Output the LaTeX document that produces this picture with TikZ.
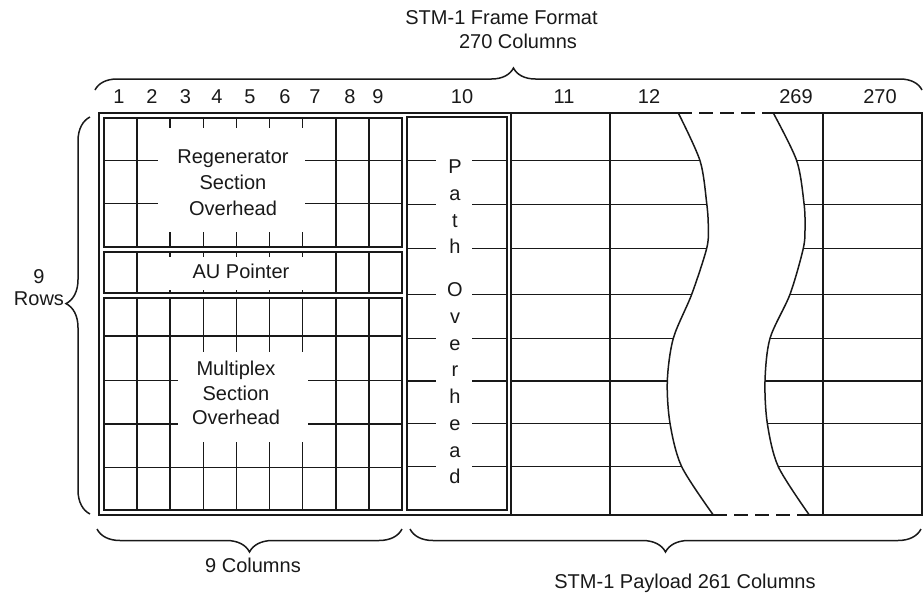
\documentclass[tikz,border=0pt]{standalone}
\usepackage{fontspec}
\setmainfont{Liberation Sans}
\usetikzlibrary{decorations.pathreplacing}
\tikzset{
  lbl/.style={font=\fontsize{20}{24}\selectfont, inner sep=0pt, anchor=base, text=black!90},
  gridln/.style={line width=1.5pt, draw=black!90},
  boxln/.style={line width=1.7pt, draw=black!90},
  blank/.style={fill=white, draw=none},
  bracedeco/.style={decorate, decoration={brace, amplitude=#1}, line width=1.5pt, draw=black!90},
  dashln/.style={line width=1.7pt, draw=black!90, dash pattern=on 14pt off 7pt}
}
\begin{document}
\begin{tikzpicture}[x=1pt,y=-1pt]
\useasboundingbox (0,0) rectangle (923,592);

% ---------- overhead grid (columns 1-9) ----------
\foreach \k in {1,...,8}{
  \draw[gridln] ({104+33.11*\k},118) -- ({104+33.11*\k},247);
  \draw[gridln] ({104+33.11*\k},251.7) -- ({104+33.11*\k},293.3);
  \draw[gridln] ({104+33.11*\k},298.3) -- ({104+33.11*\k},510);
}
\foreach \y in {160.7,203.3}{\draw[gridln] (104,\y) -- (402,\y);}
\foreach \y in {336,380.7,424,467.3}{\draw[gridln] (104,\y) -- (402,\y);}
\path[blank] (158,128) rectangle (305,232);
\path[blank] (158,256.5) rectangle (305,289.5);
\path[blank] (178,351.7) rectangle (308,441.7);
\draw[boxln] (104,118) rectangle (402,247);
\draw[boxln] (104,251.7) rectangle (402,293.3);
\draw[boxln] (104,298.3) rectangle (402,510);

% ---------- path overhead column ----------
\foreach \y in {160.7,204.3,248.3,294.3,338.3,381,423.3,466.7}{
  \draw[gridln] (407.3,\y) -- (436,\y);
  \draw[gridln] (472,\y) -- (506.7,\y);
}
\draw[boxln] (407.3,117.3) rectangle (506.7,510);

% ---------- payload ----------
\foreach \y in {160.7,204.3,248.3,294.3,338.3,381,423.3,466.7}{
  \draw[gridln] (510.7,\y) -- (922,\y);
}
\fill[white] plot[smooth,tension=0.5] coordinates {(678.3,113) (700,160.7) (706.7,203.3) (708.3,226.7) (706.7,248.3) (691.7,294.3) (673.3,338.3) (667.3,381) (670,423.3) (681.7,466.7) (713.3,515)}
  -- plot[smooth,tension=0.5] coordinates {(809.3,515) (778.3,466.7) (767.3,423.3) (765,381) (770,338.3) (790,294.3) (803.3,248.3) (805,226.7) (804,203.3) (796.7,160.7) (773.3,113)} -- cycle;
\draw[gridln] plot[smooth,tension=0.5] coordinates {(678.3,113) (700,160.7) (706.7,203.3) (708.3,226.7) (706.7,248.3) (691.7,294.3) (673.3,338.3) (667.3,381) (670,423.3) (681.7,466.7) (713.3,515)};
\draw[gridln] plot[smooth,tension=0.5] coordinates {(773.3,113) (796.7,160.7) (804,203.3) (805,226.7) (803.3,248.3) (790,294.3) (770,338.3) (765,381) (767.3,423.3) (778.3,466.7) (809.3,515)};
\foreach \x in {510.7,610,823.3}{\draw[boxln] (\x,113) -- (\x,515);}
\draw[boxln] (678.3,113) -- (99,113) -- (99,515) -- (713.3,515);
\draw[boxln] (773.3,113) -- (922,113) -- (922,515) -- (809.3,515);
\draw[dashln] (678.3,113) -- (773.3,113);
\draw[dashln] (713.3,515) -- (809.3,515);

% ---------- texts ----------
\node[lbl] (rs1) at (233,163.8) {Regenerator};
\node[lbl] (rs2) at (233,189.8) {Section};
\node[lbl] (rs3) at (233,215.8) {Overhead};
\node[lbl] (au) at (241,278.8) {AU Pointer};
\node[lbl] (ms1) at (236,375.8) {Multiplex};
\node[lbl] (ms2) at (236,400.3) {Section};
\node[lbl] (ms3) at (236,424.8) {Overhead};

\node[lbl] (p1) at (455,173.5) {P};
\node[lbl] (p2) at (455,200.3) {a};
\node[lbl] (p3) at (455,227.1) {t};
\node[lbl] (p4) at (455,253.9) {h};
\node[lbl] (o1) at (455,296.8) {O};
\node[lbl] (o2) at (455,323.5) {v};
\node[lbl] (o3) at (455,350.2) {e};
\node[lbl] (o4) at (455,376.9) {r};
\node[lbl] (o5) at (455,403.6) {h};
\node[lbl] (o6) at (455,430.3) {e};
\node[lbl] (o7) at (455,457) {a};
\node[lbl] (o8) at (455,483.7) {d};

\node[lbl] (title1) at (501.5,24.8) {STM-1 Frame Format};
\node[lbl] (title2) at (518,48.8) {270 Columns};

\node[lbl] (c1) at (119,103.3) {1};
\node[lbl] (c2) at (152,103.3) {2};
\node[lbl] (c3) at (185.5,103.3) {3};
\node[lbl] (c4) at (217,103.3) {4};
\node[lbl] (c5) at (250,103.3) {5};
\node[lbl] (c6) at (285,103.3) {6};
\node[lbl] (c7) at (315,103.3) {7};
\node[lbl] (c8) at (350,103.3) {8};
\node[lbl] (c9) at (378,103.3) {9};
\node[lbl] (c10) at (462,103.3) {10};
\node[lbl] (c11) at (564,103.3) {11};
\node[lbl] (c12) at (649,103.3) {12};
\node[lbl] (c269) at (796,103.3) {269};
\node[lbl] (c270) at (880,103.3) {270};

\node[lbl] (rows1) at (39,283.5) {9};
\node[lbl] (rows2) at (39,305.5) {Rows};

\node[lbl] (bot1) at (253,572.8) {9 Columns};
\node[lbl] (bot2) at (685,588.8) {STM-1 Payload 261 Columns};

% ---------- braces ----------
\draw[bracedeco=22pt, decoration={aspect=0.506}] (95,90) -- (922,90);
\draw[bracedeco=24pt, decoration={aspect=0.53}] (90,514) -- (90,117);
\draw[bracedeco=23pt] (402,529) -- (97,529);
\draw[bracedeco=23pt, decoration={aspect=0.5}] (921,529) -- (410,529);
\end{tikzpicture}
\end{document}
